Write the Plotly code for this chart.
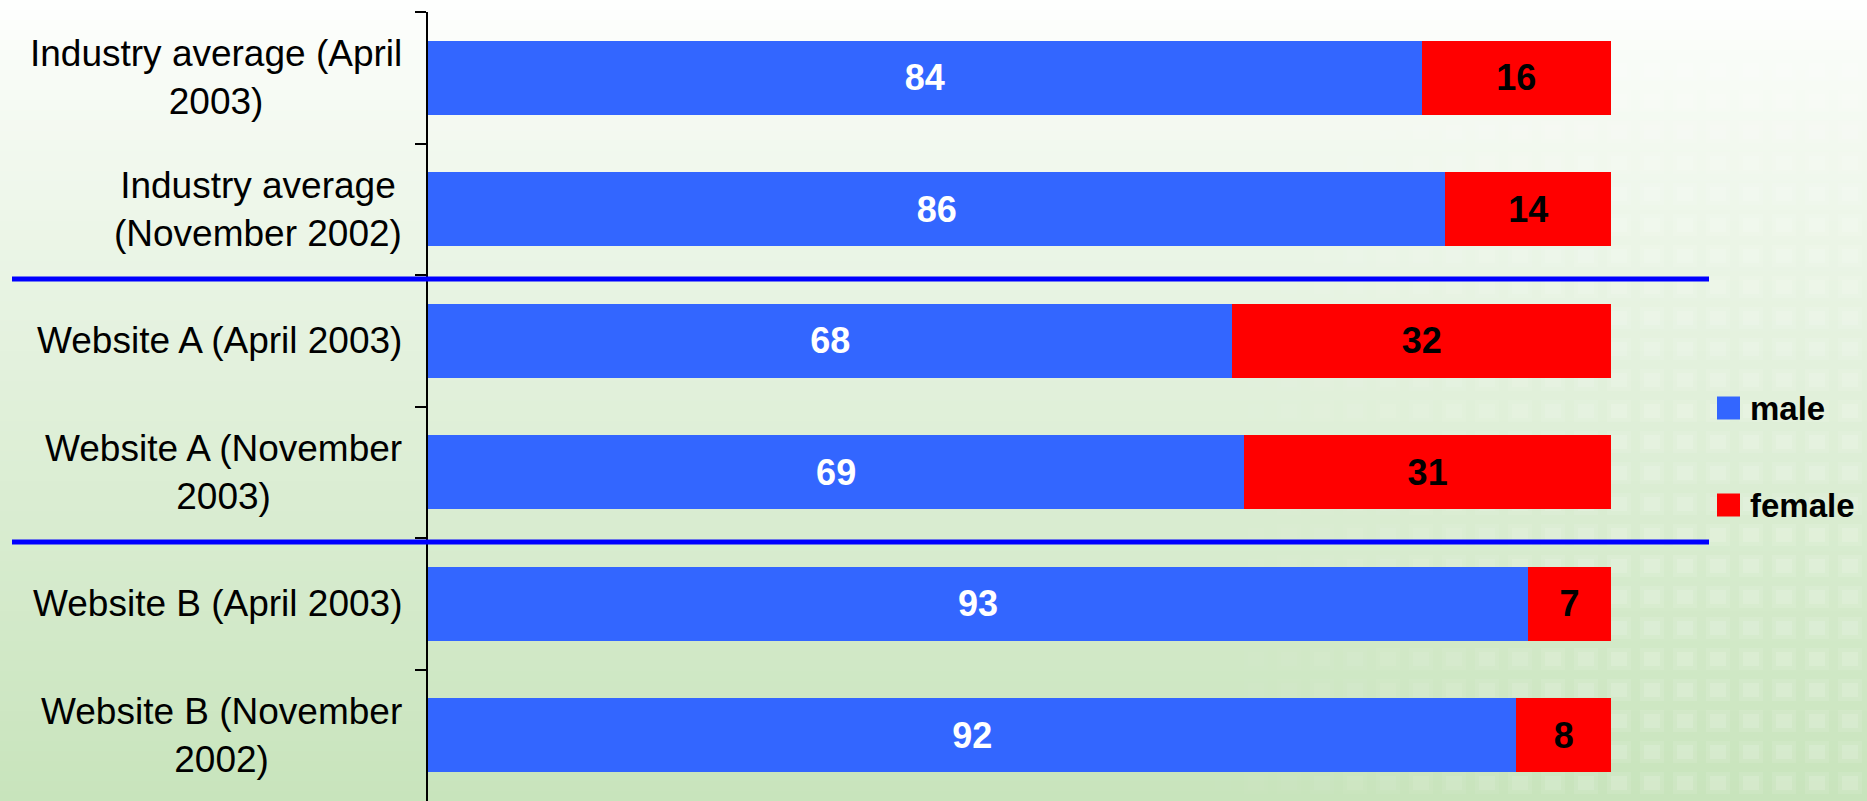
import plotly.graph_objects as go

# ---------------- data ----------------
categories = [
    "Industry average (April 2003)",
    "Industry average (November 2002)",
    "Website A (April 2003)",
    "Website A (November 2003)",
    "Website B (April 2003)",
    "Website B (November 2002)",
]
category_labels = [
    "Industry average (April<br>2003)",
    "Industry average<br>(November 2002)",
    "Website A (April 2003)",
    "Website A (November<br>2003)",
    "Website B (April 2003)",
    "Website B (November<br>2002)",
]
male = [84, 86, 68, 69, 93, 92]
female = [16, 14, 32, 31, 7, 8]
series_names = ["male", "female"]
series_values = [male, female]
series_colors = ["#3366FF", "#FF0000"]
label_colors = ["#FFFFFF", "#000000"]
group_breaks = [1.5, 3.5]   # separators between category groups

# ---------------- geometry ----------------
W, H = 1867, 801
ML, MR, MT, MB = 428, 256, 12, 0
PW, PH = W - ML - MR, H - MT - MB
CAT_PX = PH / len(categories)


def px_x(p):
    return (p - ML) / PW


def px_y(p):
    return (H - MB - p) / PH


FONT = "Liberation Sans, Arial, sans-serif"

fig = go.Figure()
for name, vals, col, tcol in zip(series_names, series_values, series_colors, label_colors):
    fig.add_trace(go.Bar(
        y=categories, x=vals, name=name, orientation="h",
        marker=dict(color=col, line=dict(width=0)),
        text=vals, texttemplate="%{text}", textposition="inside",
        insidetextanchor="middle", constraintext="none",
        textfont=dict(family=FONT, size=36, color=tcol, weight="bold"),
        hoverinfo="x+y", showlegend=False,
    ))

shapes = []
# background gradient (white at top -> light green at bottom)
top = (255, 255, 255)
bot = (200, 228, 188)
n = 80
for i in range(n):
    t = (i + 0.5) / n
    tt = t ** 0.85
    c = tuple(round(a + (b - a) * tt) for a, b in zip(top, bot))
    y0p = H * i / n
    y1p = H * (i + 1) / n + 1
    shapes.append(dict(type="rect", xref="paper", yref="paper",
                       x0=px_x(0), x1=px_x(W), y0=px_y(y1p), y1=px_y(y0p),
                       fillcolor="rgb(%d,%d,%d)" % c, line=dict(width=0), layer="below"))
# soft, blurred dotted texture on the right
for cx in range(1190, 1880, 33):
    for cy in range(8, 810, 31):
        op = max(0.0, min(1.0, (cx - 1170) / 450.0))
        if op <= 0:
            continue
        for half, k in ((12, 0.10), (8, 0.14)):
            shapes.append(dict(type="rect", xref="paper", yref="paper",
                               x0=px_x(cx - half), x1=px_x(cx + half),
                               y0=px_y(cy + half - 1), y1=px_y(cy - half + 1),
                               fillcolor="rgba(255,255,255,%.3f)" % (op * k),
                               line=dict(width=0), layer="below"))

# group separators (drawn just below the category boundary, as in the original)
for yb in group_breaks:
    yy = yb + 4.0 / CAT_PX
    shapes.append(dict(type="line", xref="paper", yref="y",
                       x0=px_x(12), x1=px_x(1709), y0=yy, y1=yy,
                       line=dict(color="#0000FF", width=5), layer="above"))

# manual legend
annotations = []
legend_y = [408, 505]
for name, col, ly in zip(series_names, series_colors, legend_y):
    shapes.append(dict(type="rect", xref="paper", yref="paper",
                       x0=px_x(1717), x1=px_x(1740), y0=px_y(ly + 11.5), y1=px_y(ly - 11.5),
                       fillcolor=col, line=dict(width=0), layer="above"))
    annotations.append(dict(x=px_x(1748), y=px_y(ly), xref="paper", yref="paper",
                            text=name, showarrow=False, xanchor="left", yanchor="middle",
                            font=dict(family=FONT, size=33, color="#000000", weight="bold")))

# category labels (centered multi-line, right aligned block)
for cat, lab in zip(categories, category_labels):
    annotations.append(dict(x=0, y=cat, xref="paper", yref="y", xshift=-24,
                            text=lab, showarrow=False, xanchor="right", yanchor="middle",
                            align="center",
                            font=dict(family=FONT, size=37, color="#000000")))

fig.update_layout(
    width=W, height=H,
    margin=dict(l=ML, r=MR, t=MT, b=MB, pad=0),
    barmode="stack", bargap=0.437,
    paper_bgcolor="#FFFFFF", plot_bgcolor="rgba(0,0,0,0)",
    font=dict(family=FONT),
    shapes=shapes, annotations=annotations,
    xaxis=dict(range=[0, 100], visible=False, fixedrange=True),
    yaxis=dict(type="category", categoryorder="array", categoryarray=categories,
               autorange="reversed", showticklabels=False, showgrid=False, zeroline=False,
               showline=True, linecolor="#000000", linewidth=1.5,
               ticks="outside", ticklen=11, tickwidth=1.5, tickcolor="#000000",
               tickson="boundaries"),
    showlegend=False,
)

fig.write_html("out.html")
